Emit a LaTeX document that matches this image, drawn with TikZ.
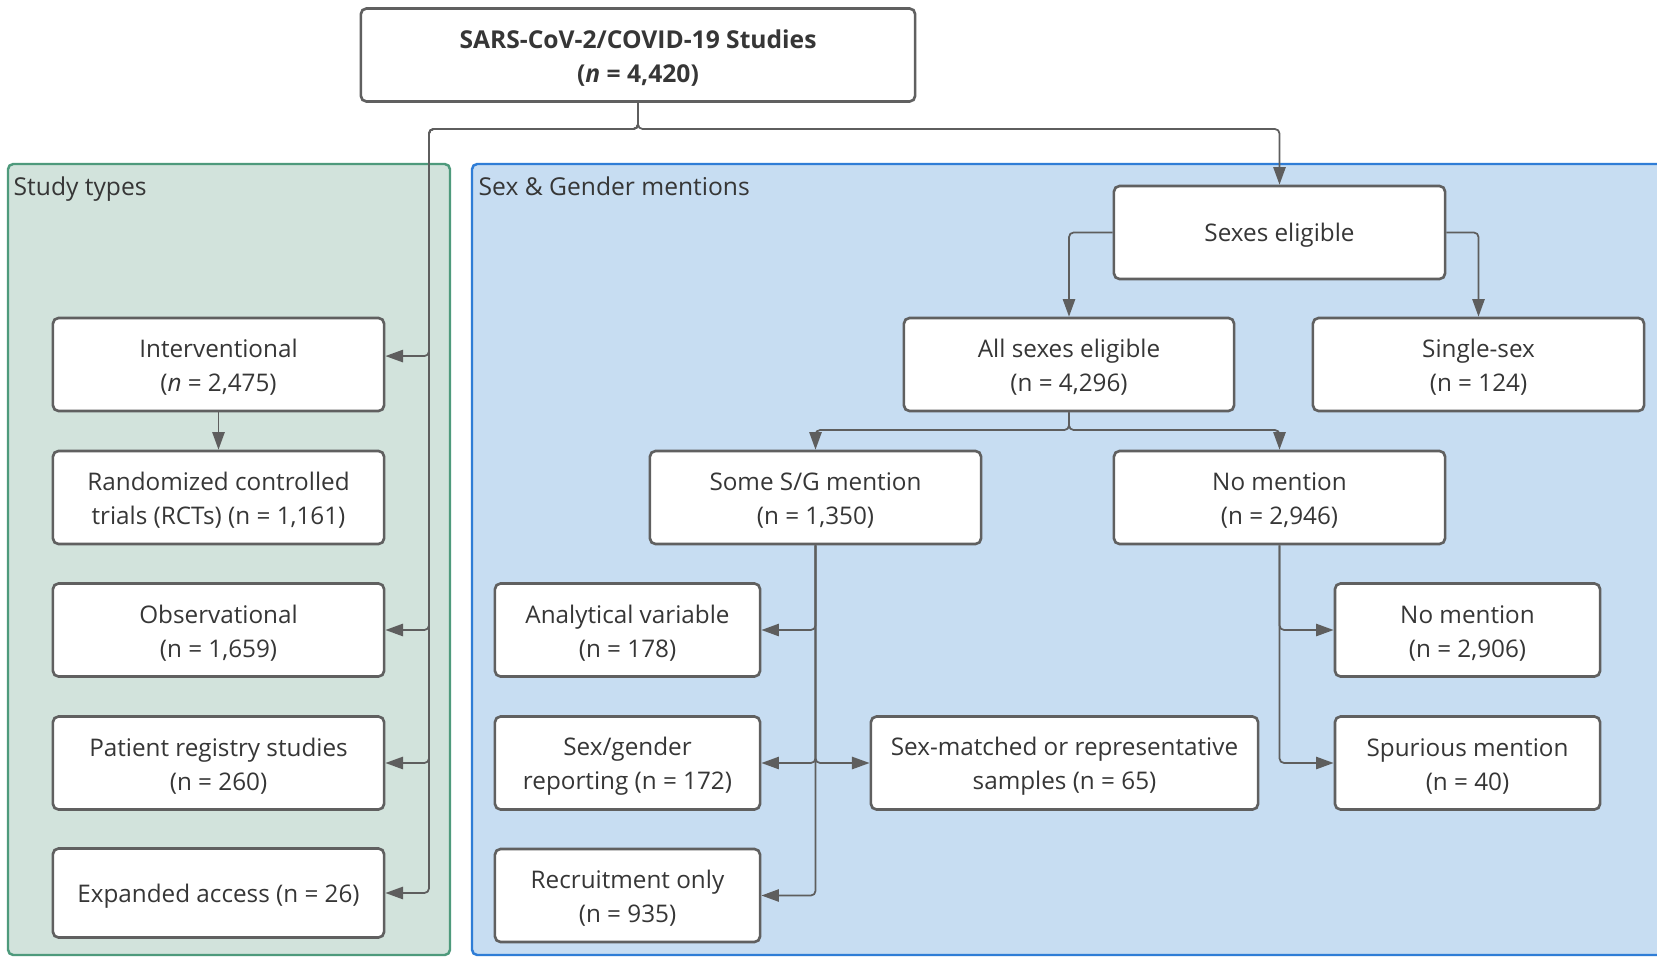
\documentclass[tikz,border=0pt]{standalone}
\usepackage{fontspec}
\setmainfont{Open Sans}
\usetikzlibrary{arrows.meta}
\definecolor{greenfill}{HTML}{D2E3DC}
\definecolor{greenline}{HTML}{4E9A7C}
\definecolor{bluefill}{HTML}{C7DDF2}
\definecolor{blueline}{HTML}{2F7DD6}
\definecolor{boxline}{HTML}{606060}
\definecolor{txt}{HTML}{363636}
\definecolor{connc}{HTML}{5E5E5E}
\newcommand{\tstrut}{\rule{0pt}{7pt}}
\tikzset{
  box/.style={draw=boxline, line width=0.75pt, fill=white, rounded corners=1.6pt,
    align=center, inner sep=0pt, text=txt, font=\fontsize{6.9pt}{9.7pt}\selectfont},
  conn/.style={draw=connc, line width=0.5pt, rounded corners=1.3pt,
    -{Triangle[length=5pt,width=3.5pt]}},
  paneltitle/.style={anchor=base west, inner sep=0pt, text=txt, font=\fontsize{7pt}{9pt}\selectfont},
}
\begin{document}
\begin{tikzpicture}[x=0.01cm,y=-0.01cm]
\clip (0,0) rectangle (1657,957);
\fill[white] (0,0) rectangle (1657,957);
% panels
\draw[fill=greenfill, draw=greenline, line width=0.7pt, rounded corners=1.5pt] (8,164) rectangle (450,955);
\draw[fill=bluefill, draw=blueline, line width=0.7pt, rounded corners=1.5pt] (472,164) rectangle (1700,955);
\node[paneltitle] (stlab) at (13,195) {Study types};
\node[paneltitle] (sglab) at (478,195) {Sex \& Gender mentions};
% boxes
\node[box, minimum width=5.54cm, minimum height=0.93cm, font=\bfseries\fontsize{7pt}{9.7pt}\selectfont] (top) at (638,55) {\tstrut SARS-CoV-2/COVID-19 Studies\\(\textit{n} = 4,420)};
\node[box, minimum width=3.31cm, minimum height=0.93cm] (int) at (218.5,364.5) {\tstrut Interventional\\(\textit{n} = 2,475)};
\node[box, minimum width=3.31cm, minimum height=0.93cm] (rct) at (218.5,497.5) {\tstrut Randomized controlled\\trials (RCTs) (n = 1,161)};
\node[box, minimum width=3.31cm, minimum height=0.93cm] (obs) at (218.5,630) {\tstrut Observational\\(n = 1,659)};
\node[box, minimum width=3.31cm, minimum height=0.93cm] (reg) at (218.5,763) {\tstrut Patient registry studies\\(n = 260)};
\node[box, minimum width=3.31cm, minimum height=0.89cm] (exa) at (218.5,893) {\tstrut Expanded access (n = 26)};
\node[box, minimum width=3.31cm, minimum height=0.93cm] (sexes) at (1279.5,232.5) {\tstrut Sexes eligible};
\node[box, minimum width=3.30cm, minimum height=0.93cm] (alls) at (1069,364.5) {\tstrut All sexes eligible\\(n = 4,296)};
\node[box, minimum width=3.31cm, minimum height=0.93cm] (single) at (1478.5,364.5) {\tstrut Single-sex\\(n = 124)};
\node[box, minimum width=3.31cm, minimum height=0.93cm] (some) at (815.5,497.5) {\tstrut Some S/G mention\\(n = 1,350)};
\node[box, minimum width=3.31cm, minimum height=0.93cm] (nom) at (1279.5,497.5) {\tstrut No mention\\(n = 2,946)};
\node[box, minimum width=2.65cm, minimum height=0.93cm] (anal) at (627.5,630) {\tstrut Analytical variable\\(n = 178)};
\node[box, minimum width=2.65cm, minimum height=0.93cm] (sexrep) at (627.5,763) {\tstrut Sex/gender\\reporting (n = 172)};
\node[box, minimum width=2.65cm, minimum height=0.93cm] (recr) at (627.5,895.5) {\tstrut Recruitment only\\(n = 935)};
\node[box, minimum width=3.87cm, minimum height=0.93cm] (sexm) at (1064.5,763) {\tstrut Sex-matched or representative\\samples (n = 65)};
\node[box, minimum width=2.65cm, minimum height=0.93cm] (nom2) at (1467.5,630) {\tstrut No mention\\(n = 2,906)};
\node[box, minimum width=2.65cm, minimum height=0.93cm] (spur) at (1467.5,763) {\tstrut Spurious mention\\(n = 40)};
% junctions
\coordinate (j0) at (638,129);
\coordinate (jl) at (429,129);
\coordinate (j1) at (1069,430);
% connectors from top
\draw[conn] (top.south) -- (j0) -| ([yshift=2.4pt]int.east -| jl) -- ([yshift=2.4pt]int.east);
\draw[conn] (top.south) -- (j0) -- (jl) |- (obs.east);
\draw[conn] (top.south) -- (j0) -- (jl) |- (reg.east);
\draw[conn] (top.south) -- (j0) -- (jl) |- (exa.east);
\draw[conn] (top.south) -- (j0) -| (sexes.north);
\draw[conn] (int.south) -- (rct.north);
% right panel
\draw[conn] (sexes.west) -| (alls.north);
\draw[conn] (sexes.east) -| (single.north);
\draw[conn] (alls.south) -- (j1) -| (some.north);
\draw[conn] (alls.south) -- (j1) -| (nom.north);
\draw[conn] (some.south) |- (anal.east);
\draw[conn] (some.south) |- (sexrep.east);
\draw[conn] (some.south) |- (recr.east);
\draw[conn] (some.south) |- (sexm.west);
\draw[conn] (nom.south) |- (nom2.west);
\draw[conn] (nom.south) |- (spur.west);
\end{tikzpicture}
\end{document}
